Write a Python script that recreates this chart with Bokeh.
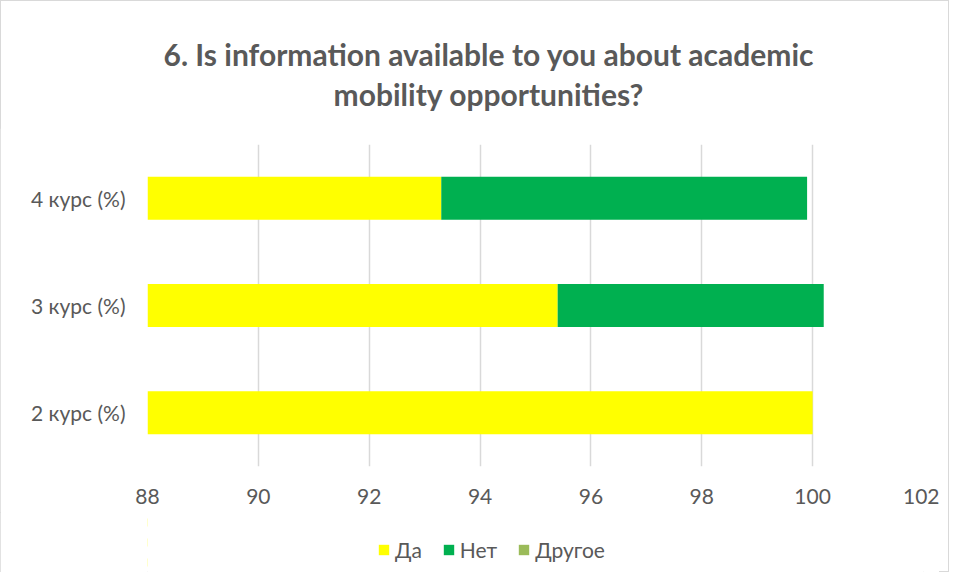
from bokeh.plotting import figure
from bokeh.layouts import column
from bokeh.models import (ColumnDataSource, FactorRange, Range1d, Legend, LegendItem, FixedTicker,
                          Div, BoxAnnotation)
from bokeh.embed import file_html
from bokeh.resources import INLINE

categories = ["2 курс (%)", "3 курс (%)", "4 курс (%)"]
series_names = ["Да", "Нет", "Другое"]
da = [100.0, 95.4, 93.3]
net = [0.0, 4.8, 6.6]
drugoe = [0.0, 0.0, 0.0]
x_ticks = [88, 90, 92, 94, 96, 98, 100, 102]
colors = ["#FFFF00", "#00B050", "#9BBB59"]
title_lines = ["6. Is information available to you about academic", "mobility opportunities?"]

source = ColumnDataSource(dict(cat=categories, da=da, net=net, dr=drugoe))
stackers = ["da", "net", "dr"]

# title
title_div = Div(
    text="<br>".join(title_lines), width=939, height=118,
    styles={"width": "939px", "text-align": "center", "font-family": "Lato",
            "font-weight": "bold", "font-size": "30px", "color": "#595959",
            "line-height": "40px", "padding-top": "29px", "padding-left": "28px",
            "box-sizing": "border-box"})

# main chart
p = figure(width=939, height=384, output_backend="svg", toolbar_location=None,
           y_range=FactorRange(factors=categories, range_padding=0),
           x_range=Range1d(x_ticks[0], x_ticks[-1]),
           min_border_left=147, min_border_right=16, min_border_top=16, min_border_bottom=46)
p.hbar_stack(stackers, y="cat", height=0.4, color=colors, line_color=None, source=source)

p.xaxis.ticker = FixedTicker(ticks=x_ticks)
for ax in (p.xaxis, p.yaxis):
    ax.axis_line_color = None
    ax.major_tick_line_color = None
    ax.minor_tick_line_color = None
    ax.major_label_text_font = "Lato"
    ax.major_label_text_font_size = "21px"
    ax.major_label_text_color = "#595959"
p.xaxis.major_label_standoff = 16
p.yaxis.major_label_standoff = 16
p.xgrid.grid_line_color = "#D9D9D9"
p.xgrid.grid_line_width = 1.5
p.ygrid.grid_line_color = None
p.outline_line_color = None

# legend strip: same series drawn underneath an opaque white cover, legend on top
pl = figure(width=939, height=60, output_backend="svg", toolbar_location=None,
            y_range=FactorRange(factors=categories, range_padding=0),
            x_range=Range1d(x_ticks[0], x_ticks[-1]),
            x_axis_type=None, y_axis_type=None,
            min_border_left=0, min_border_right=0, min_border_top=0, min_border_bottom=0)
pl.grid.visible = False
pl.outline_line_color = None
lr = pl.hbar_stack(stackers, y="cat", height=0.4, color=colors, line_color=None, source=source)
cover = BoxAnnotation(fill_color="white", fill_alpha=1.0, line_color=None, level="annotation")
pl.add_layout(cover)
items = [LegendItem(label=n, renderers=[r]) for n, r in zip(series_names, lr)]
legend = Legend(items=items, orientation="horizontal", location=(230, 10),
                label_text_font="Lato", label_text_font_size="21px", label_text_color="#595959",
                glyph_width=13, glyph_height=13, spacing=20, label_standoff=5,
                border_line_color=None, background_fill_alpha=0, margin=0, padding=2)
pl.add_layout(legend, "center")

layout = column(title_div, p, pl, spacing=0,
                styles={"outline": "1px solid #D9D9D9", "outline-offset": "-1px",
                        "background-color": "white"})

open("out.html", "w").write(file_html(layout, INLINE))
